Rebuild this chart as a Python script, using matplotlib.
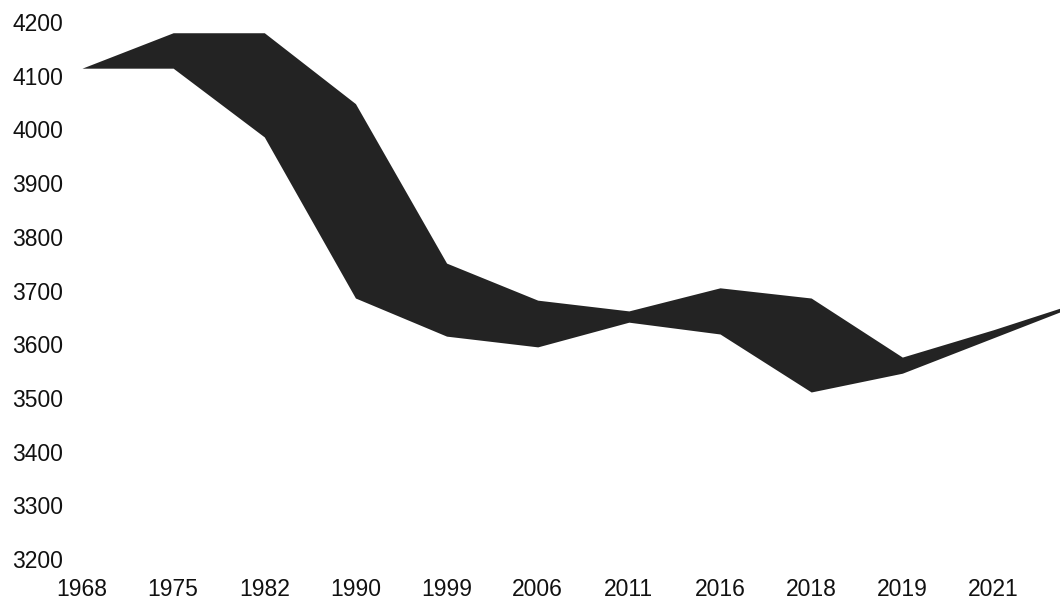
import matplotlib.pyplot as plt
import numpy as np

plt.rcParams["font.family"] = ["Liberation Sans", "DejaVu Sans"]

# categories (the last one runs off the right edge of the picture)
years = ["1968", "1975", "1982", "1990", "1999", "2006", "2011", "2016",
         "2018", "2019", "2021", "2023"]
upper = [4114, 4180, 4180, 4048, 3751, 3682, 3662, 3705, 3686, 3576, 3627, 3682]
lower = [4114, 4114, 3986, 3686, 3615, 3595, 3641, 3619, 3511, 3546, 3612, 3678]
y_ticks = [3200, 3300, 3400, 3500, 3600, 3700, 3800, 3900, 4000, 4100, 4200]

fig = plt.figure(figsize=(10.6, 6.02), dpi=100)
ax = fig.add_axes([82 / 1060, 43 / 602, (1060 - 82) / 1060, 537 / 602])

x = np.arange(len(years))
ax.fill_between(x, lower, upper, color="#232323", linewidth=0)

ax.set_xticks(x)
ax.set_xticklabels(years)
ax.set_yticks(y_ticks)
ax.set_yticklabels([str(v) for v in y_ticks])
# set limits after the ticks, otherwise set_xticks widens the view
ax.set_xlim(0, 10.73)
ax.set_ylim(3200, 4200)

ax.tick_params(axis="both", length=0, labelsize=16.5, colors="#111111")
ax.tick_params(axis="y", pad=13.5)
ax.tick_params(axis="x", pad=14)
for s in ax.spines.values():
    s.set_visible(False)
ax.patch.set_alpha(0)

fig.savefig("out.png", dpi=100)
